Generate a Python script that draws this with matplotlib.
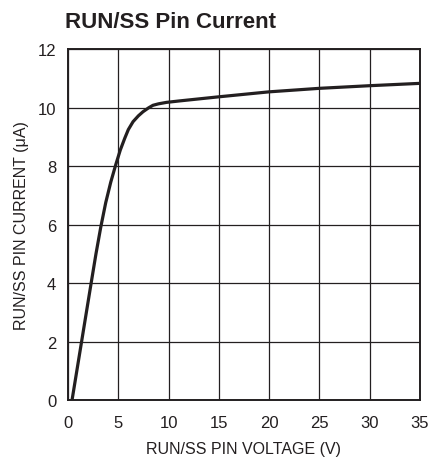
import numpy as np
import matplotlib
matplotlib.use('Agg')
import matplotlib.pyplot as plt

# RUN/SS pin voltage (V) vs pin current (uA)
voltage = [0.4, 1.35, 2.3, 2.78, 3.25, 3.75, 4.25, 4.75, 5.2, 5.64, 6.0, 6.47,
           7.0, 7.46, 8.0, 8.45, 9.0, 9.8, 11.1, 15, 20, 25, 30, 35]
current = [0, 2, 4, 5, 5.9, 6.75, 7.45, 8.05, 8.55, 8.95, 9.25, 9.52,
           9.72, 9.86, 9.99, 10.08, 10.13, 10.18, 10.23, 10.37, 10.54, 10.66,
           10.75, 10.83]

x_ticks = [0, 5, 10, 15, 20, 25, 30, 35]
y_ticks = [0, 2, 4, 6, 8, 10, 12]

plt.rcParams['font.family'] = ['Liberation Sans', 'DejaVu Sans']

fig = plt.figure(figsize=(4.36, 4.6), dpi=100)
ax = fig.add_axes([0.156, 0.128, 0.807, 0.763])

ax.plot(voltage, current, color='#231f20', linewidth=2.3,
        solid_joinstyle='round', solid_capstyle='butt')

ax.set_xlim(0, 35)
ax.set_ylim(0, 12)
ax.set_xticks(x_ticks)
ax.set_yticks(y_ticks)
ax.tick_params(length=0, labelsize=12, colors='#231f20')
ax.tick_params(axis='x', pad=10.5)
ax.tick_params(axis='y', pad=8.5)
ax.grid(True, color='#231f20', linewidth=0.9)
for s in ax.spines.values():
    s.set_linewidth(1.4)
    s.set_color('#231f20')

ax.set_xlabel('RUN/SS PIN VOLTAGE (V)', fontsize=11.5, color='#231f20', labelpad=8)
ax.set_ylabel('RUN/SS PIN CURRENT (μA)', fontsize=11.5, color='#231f20', labelpad=6)

fig.text(0.149, 0.94, 'RUN/SS Pin Current', fontsize=16, fontweight='bold',
         color='#231f20', ha='left', va='baseline')

fig.savefig('out.png', dpi=100)
